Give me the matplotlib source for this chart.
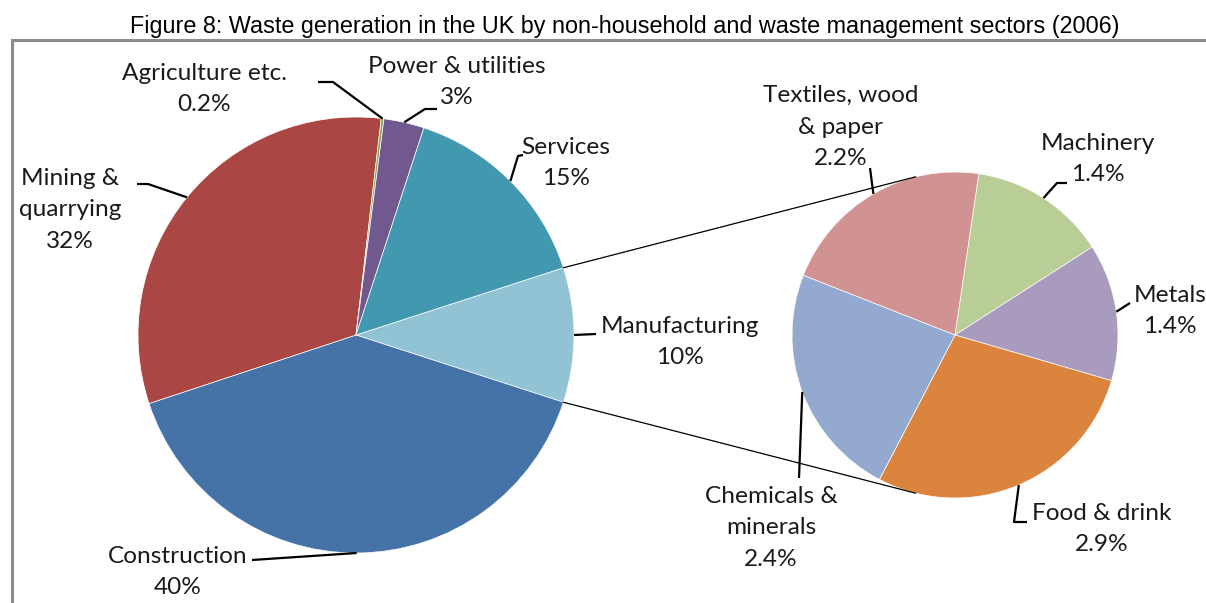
import numpy as np
import matplotlib
matplotlib.use("Agg")
import matplotlib.pyplot as plt

W, H = 1206, 603

# main pie: sectors, clockwise from the manufacturing slice
main_labels = ["Manufacturing", "Construction", "Mining &\nquarrying",
               "Agriculture etc.", "Power & utilities", "Services"]
main_values = [10, 40, 32, 0.2, 3, 15]
main_colors = ["#91C3D5", "#4572A7", "#AA4643", "#89A54E", "#71588F", "#4198AF"]

# secondary pie: breakdown of manufacturing, clockwise from machinery
sub_labels = ["Machinery", "Metals", "Food & drink",
              "Chemicals &\nminerals", "Textiles, wood\n& paper"]
sub_values = [1.4, 1.4, 2.9, 2.4, 2.2]
sub_colors = ["#B9CD96", "#A99BBD", "#DB843D", "#93A9CF", "#D19392"]

LABEL_FONT = ["Lato", "DejaVu Sans"]


def py(y):
    # pixel rows counted from the top
    return H - y


def mid_angle(values, i, start):
    total = float(sum(values))
    before = sum(values[:i]) / total * 360
    return start - before - values[i] / total * 180


def rim(center, r, ang):
    a = np.deg2rad(ang)
    return center[0] + r * np.cos(a), center[1] + r * np.sin(a)


fig = plt.figure(figsize=(W / 100, H / 100), dpi=100)
ax = fig.add_axes([0, 0, 1, 1])

c1, r1 = (356, py(335)), 218
c2, r2 = (955, py(335)), 163
start1 = main_values[0] / sum(main_values) * 180
start2 = 81.6

ax.pie(main_values, colors=main_colors, startangle=start1, counterclock=False,
       center=c1, radius=r1, frame=True,
       wedgeprops=dict(edgecolor="white", linewidth=0.5))
ax.pie(sub_values, colors=sub_colors, startangle=start2, counterclock=False,
       center=c2, radius=r2, frame=True,
       wedgeprops=dict(edgecolor="white", linewidth=0.5))

# connector lines between manufacturing slice and the breakdown pie
for s, t in [(start1, 104), (-start1, 256)]:
    x0, y0 = rim(c1, r1, s)
    x1, y1 = rim(c2, r2, t)
    ax.plot([x0, x1], [y0, y1], color="black", lw=0.9, zorder=3)

# label text centre and leader points (pixels from top-left)
main_text = [(680, 342), (178, 572), (70, 210), (204, 89), (457, 82), (566, 163)]
main_leader = [[(596, 334)], [(252, 560)], [(137, 184), (148, 184)],
               [(318, 82), (333, 82)], [(437, 109), (425, 109)],
               [(523, 155), (518, 156)]]
sub_text = [(1098, 159), (1170, 311), (1102, 529), (771, 528), (841, 127)]
sub_leader = [[(1067, 183), (1057, 183)], [(1130, 303)],
              [(1027, 522), (1014, 522)], [(799, 478)], [(870, 168)]]


def draw_labels(labels, values, center, r, start, text_pos, leaders):
    for i, lab in enumerate(labels):
        tx, ty = text_pos[i]
        ax.text(tx, py(ty), f"{lab}\n{values[i]:g}%", ha="center", va="center",
                fontsize=17.6, family=LABEL_FONT, color="#1a1a1a",
                linespacing=1.62, zorder=4)
        pts = [(x, py(y)) for x, y in leaders[i]]
        pts.append(rim(center, r, mid_angle(values, i, start)))
        xs, ys = zip(*pts)
        ax.plot(xs, ys, color="black", lw=1.6, zorder=3,
                solid_capstyle="butt")


draw_labels(main_labels, main_values, c1, r1, start1, main_text, main_leader)
draw_labels(sub_labels, sub_values, c2, r2, start2, sub_text, sub_leader)

# chart area border
ax.plot([12, 12, W + 5], [py(H + 5), py(40), py(40)], color="#8c8c8c",
        lw=2.2, zorder=2, solid_joinstyle="miter")

ax.text(625, py(27), "Figure 8: Waste generation in the UK by non-household "
        "and waste management sectors (2006)", ha="center", va="center",
        fontsize=16.8, family="Liberation Sans", color="black")

ax.set_xlim(0, W)
ax.set_ylim(0, H)
ax.set_aspect("equal")
ax.axis("off")

fig.savefig("out.png", dpi=100)
